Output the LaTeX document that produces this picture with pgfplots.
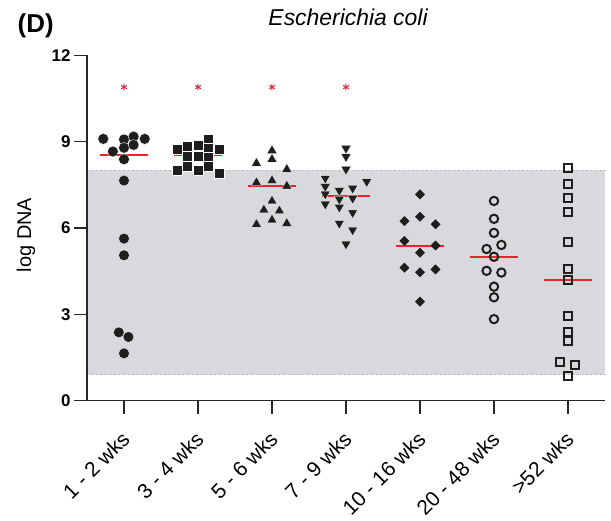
\documentclass[border=0pt]{standalone}
\usepackage{pgfplots}
\pgfplotsset{compat=1.18}
\usepackage{fontspec}
\setmainfont{Liberation Sans}
\definecolor{bandgray}{RGB}{216,217,220}
\definecolor{dotgray}{RGB}{165,165,168}
\definecolor{mk}{RGB}{30,30,30}
\definecolor{medred}{RGB}{235,35,45}
\begin{document}
\begin{tikzpicture}
\useasboundingbox (-87bp,-120.5bp) rectangle (524bp,400.5bp);
\begin{axis}[
  scale only axis,
  width=518bp, height=345bp,
  xmin=-0.5, xmax=6.5, ymin=0, ymax=12,
  axis lines=left,
  axis line style={line width=1.3pt, draw=black!85, -},
  axis on top,
  clip=false,
  xtick={0,1,2,3,4,5,6},
  xticklabels={1 - 2 wks,3 - 4 wks,5 - 6 wks,7 - 9 wks,10 - 16 wks,20 - 48 wks,>52 wks},
  ytick={0,3,6,9,12},
  tick align=outside,
  major tick length=13bp,
  tick style={line width=1.3pt, draw=black!85},
  /pgf/number format/assume math mode=true,
  xticklabel style={rotate=45, anchor=east, font=\fontsize{21}{21}\selectfont, xshift=-11bp, yshift=-17bp},
  yticklabel style={font=\bfseries\fontsize{17}{17}\selectfont},
  ylabel={log DNA},
  every axis y label/.style={at={(axis description cs:-0.118,0.48)}, rotate=90, anchor=center, font=\fontsize{20}{20}\selectfont},
]
% reference band
\addplot[fill=bandgray, draw=none] coordinates {(-0.5,0.9) (6.5,0.9) (6.5,8.0) (-0.5,8.0)} -- cycle;
\addplot[dotgray, line width=1.2pt, dash pattern=on 0.8pt off 3.8pt] coordinates {(-0.5,8.0) (6.5,8.0)};
\addplot[dotgray, line width=1.2pt, dash pattern=on 0.8pt off 3.8pt] coordinates {(-0.5,0.9) (6.5,0.9)};
% group 1: filled circles
\addplot[only marks, mark=*, mark size=5.4bp, mk, mark options={draw=white, line width=0.3pt, fill=mk}] coordinates {
(-0.28,9.10) (0,9.08) (0.13,9.18) (0.28,9.10) (0,8.79) (0.13,8.89) (-0.15,8.66) (0,8.39) (0,7.65) (0,5.63) (0,5.05) (-0.07,2.37) (0.06,2.21) (0,1.64)};
% group 2: filled squares
\addplot[only marks, mark=square*, mark size=5bp, mk, mark options={draw=white, line width=0.4pt, fill=mk}] coordinates {
(0.72,8.74) (0.85,8.83) (1.0,8.88) (1.14,9.10) (1.28,8.74) (0.85,8.50) (1.0,8.50) (1.14,8.78) (1.14,8.48) (0.72,8.02) (0.85,8.16) (1.0,8.02) (1.14,8.16) (1.28,7.90)};
% group 3: triangles
\addplot[only marks, mark=triangle*, mark size=5.8bp, mk, mark options={draw=white, line width=0.3pt, fill=mk}] coordinates {
(1.79,8.25) (2.0,8.69) (2.0,8.39) (2.20,8.04) (1.79,7.58) (2.0,7.65) (2.20,7.46) (2.0,6.94) (1.89,6.63) (2.10,6.60) (1.79,6.13) (2.0,6.28) (2.20,6.16)};
% group 4: inverted triangles
\addplot[only marks, mark=triangle*, mark size=5.8bp, mk, mark options={rotate=180, draw=white, line width=0.3pt, fill=mk}] coordinates {
(3.0,8.77) (3.0,8.48) (3.0,8.04) (2.72,7.73) (2.72,7.44) (2.72,7.18) (2.72,6.83) (3.28,7.61) (2.91,7.30) (2.91,7.00) (2.91,6.72) (3.09,7.38) (3.09,7.03) (3.09,6.53) (2.91,6.16) (3.09,5.93) (3.0,5.44)};
% group 5: diamonds
\addplot[only marks, mark=square*, mark size=3.3bp, mk, mark options={rotate=45, draw=mk, fill=mk}] coordinates {
(4.0,7.17) (3.79,6.24) (4.0,6.39) (4.21,6.13) (3.79,5.55) (4.21,5.39) (4.0,5.14) (3.79,4.62) (4.0,4.46) (4.21,4.56) (4.0,3.44)};
% group 6: open circles
\addplot[only marks, mark=o, mark size=4.2bp, mk, mark options={line width=2bp}] coordinates {
(5,6.94) (5,6.32) (5,5.83) (4.9,5.27) (5.1,5.41) (5,5.00) (4.9,4.51) (5.1,4.45) (5,3.96) (5,3.59) (5,2.83)};
% group 7: open squares
\addplot[only marks, mark=square, mark size=4bp, mk, mark options={line width=2bp}] coordinates {
(6,8.08) (6,7.52) (6,7.05) (6,6.57) (6,5.50) (6,4.56) (6,4.19) (6,2.94) (6,2.39) (6,2.08) (5.89,1.35) (6.1,1.23) (6,0.85)};
% medians
\addplot[medred, line width=1.8bp] coordinates {(-0.33,8.54) (0.33,8.54)};
\addplot[medred, line width=1.8bp] coordinates {(0.67,8.52) (1.33,8.52)};
\addplot[medred, line width=1.8bp] coordinates {(1.67,7.47) (2.33,7.47)};
\addplot[medred, line width=1.8bp] coordinates {(2.67,7.12) (3.33,7.12)};
\addplot[medred, line width=1.8bp] coordinates {(3.67,5.37) (4.33,5.37)};
\addplot[medred, line width=1.8bp] coordinates {(4.67,5.00) (5.33,5.00)};
\addplot[medred, line width=1.8bp] coordinates {(5.67,4.19) (6.33,4.19)};
% significance stars
\addplot[only marks, mark=asterisk, mark size=3.2bp, medred, mark options={line width=1bp}] coordinates {(0,10.9) (1,10.9) (2,10.9) (3,10.9)};
% title and panel label
\node[font=\itshape\fontsize{23}{23}\selectfont] at (axis description cs:0.504,1.11) {Escherichia coli};
\node[font=\bfseries\fontsize{26}{26}\selectfont] at (axis description cs:-0.099,1.087) {(D)};
\end{axis}
\end{tikzpicture}
\end{document}
